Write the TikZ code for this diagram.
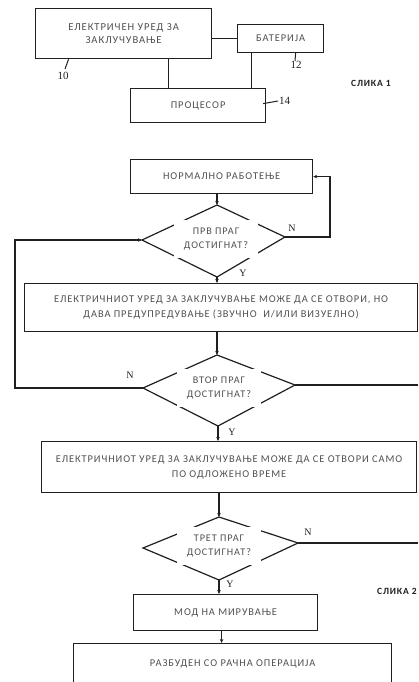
\documentclass[tikz,border=0pt]{standalone}
\usepackage{fontspec}
\setmainfont{Liberation Serif}
\newfontfamily\calfont[LetterSpace=9]{Carlito}
\usetikzlibrary{arrows.meta}
\definecolor{txt}{HTML}{505050}
\definecolor{ln}{HTML}{202020}
\tikzset{
  box/.style={draw=ln, line width=1.2pt, anchor=north west, inner sep=0pt,
    align=center, text=txt, font=\calfont\fontsize{10.4}{15}\selectfont},
  dtext/.style={fill=white, inner sep=0pt, minimum width=84pt, minimum height=38pt,
    align=center, text=txt, font=\calfont\fontsize{10.2}{14}\selectfont},
  wire/.style={draw=ln, line width=1.2pt},
  arr/.style={wire, -{Stealth[length=4pt,width=3.5pt]}},
  num/.style={font=\fontsize{11}{12}\selectfont, text=ln, inner sep=0pt},
  yn/.style={font=\fontsize{10}{12}\selectfont, text=ln, inner sep=0pt},
  fig/.style={font=\calfont\bfseries\fontsize{9.5}{10}\selectfont, text=ln, inner sep=0pt, anchor=west},
  leader/.style={draw=ln, line width=1pt}
}
\begin{document}
\begin{tikzpicture}[x=1pt,y=-1pt]
\useasboundingbox[fill=white] (0,0) rectangle (418,682);
% ---- Figure 1 ----
\node[box, minimum width=176pt, minimum height=50pt, font=\calfont\fontsize{10.6}{13}\selectfont] (lock) at (35,8) {ЕЛЕКТРИЧЕН УРЕД ЗА\\ЗАКЛУЧУВАЊЕ};
\node[box, minimum width=86pt, minimum height=28pt] (bat) at (237,24) {БАТЕРИЈА};
\node[box, minimum width=135pt, minimum height=34pt] (proc) at (130,88) {ПРОЦЕСОР};
\draw[wire] (bat.west) -- (bat.west -| lock.east);
\draw[wire] ([xshift=45pt]lock.south) -- ([xshift=45pt]lock.south |- proc.north);
\draw[wire] ([xshift=-29pt]bat.south) -- ([xshift=-29pt]bat.south |- proc.north);
\coordinate (l10) at (65,69);
\coordinate (l12) at (295,61);
\coordinate (l14) at (278,101);
\draw[leader] ([xshift=-55pt]lock.south) -- (l10);
\draw[leader] ([xshift=15pt]bat.south) -- (l12);
\draw[leader] ([xshift=-3pt,yshift=2pt]proc.east) -- (l14);
\node[num, anchor=north] (n10) at (63,72) {10};
\node[num, anchor=north] (n12) at (296,61) {12};
\node[num, anchor=west] (n14) at (279,101) {14};
\node[fig] (f1) at (351,83) {СЛИКА 1};
% ---- Figure 2 ----
\node[box, minimum width=182pt, minimum height=34pt] (normal) at (130,159) {НОРМАЛНО РАБОТЕЊЕ};
% diamond 1
\coordinate (d1t) at (217,205);
\coordinate (d1r) at (285,237);
\coordinate (d1b) at (217,277);
\coordinate (d1l) at (142,240);
\draw[wire, line join=miter] (d1t) -- (d1r) -- (d1b) -- (d1l) -- cycle;
\node[dtext] (q1) at (216,239) {ПРВ ПРАГ\\ДОСТИГНАТ?};
\node[box, minimum width=393pt, minimum height=48pt] (warn) at (24,283) {ЕЛЕКТРИЧНИОТ УРЕД ЗА ЗАКЛУЧУВАЊЕ МОЖЕ ДА СЕ ОТВОРИ, НО\\ДАВА ПРЕДУПРЕДУВАЊЕ (ЗВУЧНО \ И/ИЛИ ВИЗУЕЛНО)};
% diamond 2
\coordinate (d2t) at (217,355);
\coordinate (d2r) at (295,385);
\coordinate (d2b) at (218,426);
\coordinate (d2l) at (143,388);
\draw[wire, line join=miter] (d2t) -- (d2r) -- (d2b) -- (d2l) -- cycle;
\node[dtext] (q2) at (219,388) {ВТОР ПРАГ\\ДОСТИГНАТ?};
\node[box, minimum width=375pt, minimum height=51pt] (delay) at (41,441) {ЕЛЕКТРИЧНИОТ УРЕД ЗА ЗАКЛУЧУВАЊЕ МОЖЕ ДА СЕ ОТВОРИ САМО\\ПО ОДЛОЖЕНО ВРЕМЕ};
% diamond 3
\coordinate (d3t) at (219,517);
\coordinate (d3r) at (298,543);
\coordinate (d3b) at (219,580);
\coordinate (d3l) at (143,548);
\draw[wire, line join=miter] (d3t) -- (d3r) -- (d3b) -- (d3l) -- cycle;
\node[dtext] (q3) at (219,546) {ТРЕТ ПРАГ\\ДОСТИГНАТ?};
\node[box, minimum width=184pt, minimum height=36pt] (sleep) at (133,594) {МОД НА МИРУВАЊЕ};
\node[box, minimum width=318pt, minimum height=41pt] (wake) at (73,643) {РАЗБУДЕН СО РАЧНА ОПЕРАЦИЈА};
% connectors
\draw[arr] (normal.south -| d1t) -- (d1t);
\draw[arr] (d1r) -- ++(45,0) |- (normal.east);
\draw[arr] (d1b) -- (d1b |- warn.north);
\draw[arr] (warn.south -| d2t) -- (d2t);
\draw[arr] (d2l) -- ++(-128,0) |- (d1l);
\coordinate (e2) at (418,385);
\draw[wire] (d2r) -- (e2);
\draw[arr] (d2b) -- (d2b |- delay.north);
\draw[arr] (delay.south -| d3t) -- (d3t);
\coordinate (e3) at (418,543);
\draw[wire] (d3r) -- (e3);
\draw[arr] (d3b) -- (d3b |- sleep.north);
\draw[arr] ([xshift=-4pt]sleep.south) -- ([xshift=-4pt]sleep.south |- wake.north);
% labels
\node[yn] (y1) at (243,273) {Y};
\node[yn] (nn1) at (292,228) {N};
\node[yn] (nn2) at (130,375) {N};
\node[yn] (y2) at (232,432) {Y};
\node[yn] (nn3) at (308,532) {N};
\node[yn] (y3) at (230,584) {Y};
\node[fig] (f2) at (377,591) {СЛИКА 2};
\end{tikzpicture}
\end{document}
